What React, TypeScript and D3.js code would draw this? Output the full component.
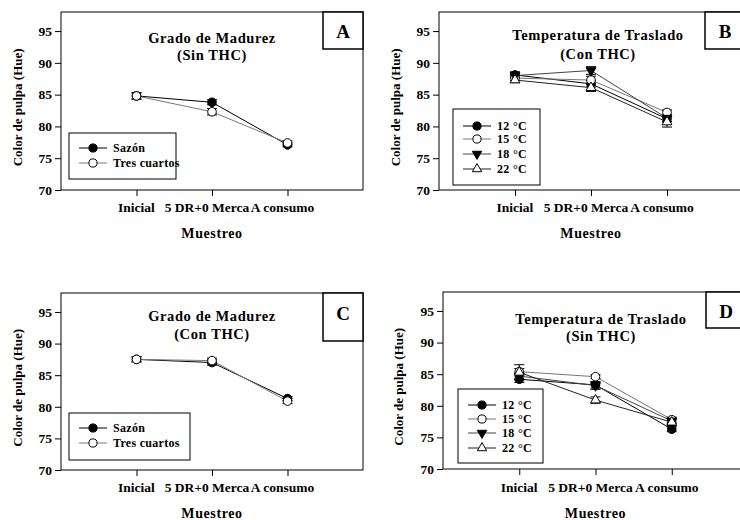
import * as d3 from 'd3';
import React, { useRef, useEffect } from 'react';

// sampling points on the x axis
const muestreo = ["Inicial", "5 DR+0 Merca", "A consumo"];
const yTicks = [70, 75, 80, 85, 90, 95];

const gradoNames = ["Sazón", "Tres cuartos"];
const tempNames = ["12 °C", "15 °C", "18 °C", "22 °C"];

// A: Grado de Madurez (Sin THC)
const aSazon = [84.8, 83.8, 77.1];
const aSazonErr = [0.5, 0.4, 0.3];
const aTres = [84.8, 82.3, 77.4];
const aTresErr = [0.5, 0.5, 0.3];

// B: Temperatura de Traslado (Con THC)
const b12 = [88.1, 86.7, 81.2];
const b12Err = [0.5, 0.5, 0.5];
const b15 = [87.6, 87.3, 82.2];
const b15Err = [0.4, 0.6, 0.4];
const b18 = [88.0, 88.8, 81.3];
const b18Err = [0.4, 0.6, 0.5];
const b22 = [87.3, 86.1, 80.7];
const b22Err = [0.4, 0.6, 0.8];

// C: Grado de Madurez (Con THC)
const cSazon = [87.5, 87.0, 81.3];
const cSazonErr = [0.4, 0.4, 0.3];
const cTres = [87.5, 87.3, 80.9];
const cTresErr = [0.4, 0.4, 0.4];

// D: Temperatura de Traslado (Sin THC)
const d12 = [84.2, 83.3, 76.3];
const d12Err = [0.5, 0.5, 0.4];
const d15 = [85.4, 84.6, 77.8];
const d15Err = [0.5, 0.3, 0.4];
const d18 = [84.7, 83.2, 77.6];
const d18Err = [0.5, 0.6, 0.4];
const d22 = [85.3, 80.9, 77.4];
const d22Err = [1.2, 0.5, 0.5];

const FONT = "'Liberation Serif', 'Times New Roman', serif";

const gradoStyle = [
  { shape: "circle", fill: "#000", line: "#000" },
  { shape: "circle", fill: "#fff", line: "#777" },
];
const tempStyle = [
  { shape: "circle", fill: "#000", line: "#000" },
  { shape: "circle", fill: "#fff", line: "#777" },
  { shape: "down", fill: "#000", line: "#444" },
  { shape: "up", fill: "#fff", line: "#222" },
];

const panels = [
  {
    x0: 61, x1: 363, y0: 12, y1: 190, letter: "A", box: [323, 12, 40, 37], letterY: 38,
    title: ["Grado de Madurez", "(Sin THC)"], titleX: 212, titleY: [43, 60],
    legend: [69, 133, 107, 46], rows: [148, 163], ylabX: 17, tickY: 212, axY: 238,
    names: gradoNames, styles: gradoStyle,
    series: [[aSazon, aSazonErr], [aTres, aTresErr]],
  },
  {
    x0: 439, x1: 743, y0: 12, y1: 190, letter: "B", box: [705, 12, 45, 37], letterY: 38,
    title: ["Temperatura de Traslado", "(Con THC)"], titleX: 598, titleY: [40, 59],
    legend: [453, 109, 87, 76], rows: [126, 139, 154, 169], ylabX: 395, tickY: 212, axY: 238,
    names: tempNames, styles: tempStyle,
    series: [[b12, b12Err], [b15, b15Err], [b18, b18Err], [b22, b22Err]],
  },
  {
    x0: 61, x1: 363, y0: 293, y1: 470, letter: "C", box: [323, 293, 40, 48], letterY: 320,
    title: ["Grado de Madurez", "(Con THC)"], titleX: 212, titleY: [321, 339],
    legend: [69, 413, 121, 47], rows: [428, 443], ylabX: 17, tickY: 492, axY: 518,
    names: gradoNames, styles: gradoStyle,
    series: [[cSazon, cSazonErr], [cTres, cTresErr]],
  },
  {
    x0: 443, x1: 748, y0: 292, y1: 469, letter: "D", box: [706, 292, 45, 36], letterY: 318,
    title: ["Temperatura de Traslado", "(Sin THC)"], titleX: 601, titleY: [324, 341],
    legend: [458, 389, 85, 74], rows: [405, 419, 433, 448], ylabX: 398, tickY: 492, axY: 518,
    names: tempNames, styles: tempStyle,
    series: [[d12, d12Err], [d15, d15Err], [d18, d18Err], [d22, d22Err]],
  },
];

function symbolFor(shape, small) {
  if (shape === "circle") return d3.symbol().type(d3.symbolCircle).size(small ? 52 : 58)();
  return d3.symbol().type(d3.symbolTriangle).size(small ? 38 : 42)();
}

function drawMarker(g, shape, fill, x, y, small = false) {
  g.append("path")
    .attr("d", symbolFor(shape, small))
    .attr("transform", `translate(${x},${y})` + (shape === "down" ? " rotate(180)" : ""))
    .attr("fill", fill)
    .attr("stroke", "#000")
    .attr("stroke-width", 1);
}

function App() {
  const ref = useRef();

  useEffect(() => {
    const svg = d3.select(ref.current);
    svg.selectAll("*").remove();

    panels.forEach(p => {
      const g = svg.append("g");
      const x = d3.scaleLinear().domain([0, 4]).range([p.x0, p.x1]);
      const y = d3.scaleLinear().domain([70, 98]).range([p.y1, p.y0]);

      // frame
      g.append("rect")
        .attr("x", p.x0).attr("y", p.y0)
        .attr("width", p.x1 - p.x0).attr("height", p.y1 - p.y0)
        .attr("fill", "none").attr("stroke", "#000").attr("stroke-width", 1);

      const yAxis = g.append("g")
        .attr("transform", `translate(${p.x0},0)`)
        .call(d3.axisLeft(y).tickValues(yTicks).tickSize(6).tickPadding(3));
      const xAxis = g.append("g")
        .attr("transform", `translate(0,${p.y1})`)
        .call(d3.axisBottom(x).tickValues([1, 2, 3]).tickSize(6).tickFormat(() => ""));
      [yAxis, xAxis].forEach(a => {
        a.select(".domain").remove();
        a.selectAll("line").attr("stroke", "#000");
        a.selectAll("text")
          .attr("font-family", FONT).attr("font-weight", "bold")
          .attr("font-size", 13.5).attr("fill", "#000");
      });

      muestreo.forEach((m, i) => {
        g.append("text")
          .attr("x", x(i + 1) - (i === 0 ? 0 : 5)).attr("y", p.tickY)
          .attr("text-anchor", "middle")
          .attr("font-family", FONT).attr("font-weight", "bold").attr("font-size", 13.5)
          .text(m);
      });

      g.append("text")
        .attr("x", x(2)).attr("y", p.axY)
        .attr("text-anchor", "middle")
        .attr("font-family", FONT).attr("font-weight", "bold").attr("font-size", 14)
        .attr("letter-spacing", 0.6)
        .text("Muestreo");

      g.append("text")
        .attr("transform", `translate(${p.ylabX + 5},${y(83)}) rotate(-90)`)
        .attr("text-anchor", "middle")
        .attr("font-family", FONT).attr("font-weight", "bold").attr("font-size", 13)
        .text("Color de pulpa (Hue)");

      p.title.forEach((t, i) => {
        g.append("text")
          .attr("x", p.titleX).attr("y", p.titleY[i])
          .attr("text-anchor", "middle")
          .attr("font-family", FONT).attr("font-weight", "bold").attr("font-size", 14.5)
          .attr("letter-spacing", 0.6)
          .text(t);
      });

      // panel letter
      g.append("rect")
        .attr("x", p.box[0]).attr("y", p.box[1])
        .attr("width", p.box[2]).attr("height", p.box[3])
        .attr("fill", "#fff").attr("stroke", "#000").attr("stroke-width", 1.5);
      g.append("text")
        .attr("x", p.box[0] + 20).attr("y", p.letterY)
        .attr("text-anchor", "middle")
        .attr("font-family", FONT).attr("font-weight", "bold").attr("font-size", 19)
        .text(p.letter);

      // series lines, error bars, markers
      p.series.forEach(([vals, errs], si) => {
        const st = p.styles[si];
        const line = d3.line().x((d, i) => x(i + 1)).y(d => y(d));
        g.append("path")
          .attr("d", line(vals))
          .attr("fill", "none").attr("stroke", st.line).attr("stroke-width", 1);
        vals.forEach((v, i) => {
          const cx = x(i + 1);
          g.append("line")
            .attr("x1", cx).attr("x2", cx)
            .attr("y1", y(v - errs[i])).attr("y2", y(v + errs[i]))
            .attr("stroke", "#000");
          [v - errs[i], v + errs[i]].forEach(e => {
            g.append("line")
              .attr("x1", cx - 5).attr("x2", cx + 5)
              .attr("y1", y(e)).attr("y2", y(e))
              .attr("stroke", "#000");
          });
        });
      });
      p.series.forEach(([vals], si) => {
        const st = p.styles[si];
        vals.forEach((v, i) => drawMarker(g, st.shape, st.fill, x(i + 1), y(v)));
      });

      // legend
      const [lx, ly, lw, lh] = p.legend;
      g.append("rect")
        .attr("x", lx).attr("y", ly).attr("width", lw).attr("height", lh)
        .attr("fill", "#fff").attr("stroke", "#000").attr("stroke-width", 1);
      p.names.forEach((n, i) => {
        const st = p.styles[i];
        const ry = p.rows[i];
        g.append("line")
          .attr("x1", lx + 10).attr("x2", lx + 38)
          .attr("y1", ry).attr("y2", ry)
          .attr("stroke", st.line);
        drawMarker(g, st.shape, st.fill, lx + 24, ry, true);
        g.append("text")
          .attr("x", lx + 44).attr("y", ry + 4)
          .attr("font-family", FONT).attr("font-weight", "bold").attr("font-size", 12)
          .attr("letter-spacing", 0.3)
          .text(n);
      });
    });
  }, []);

  return (
    <div style={{ position: "absolute", left: 0, top: 0 }}>
      <svg ref={ref} width={740} height={520} style={{ display: "block", background: "#fff" }}></svg>
    </div>
  );
}

export default App;
